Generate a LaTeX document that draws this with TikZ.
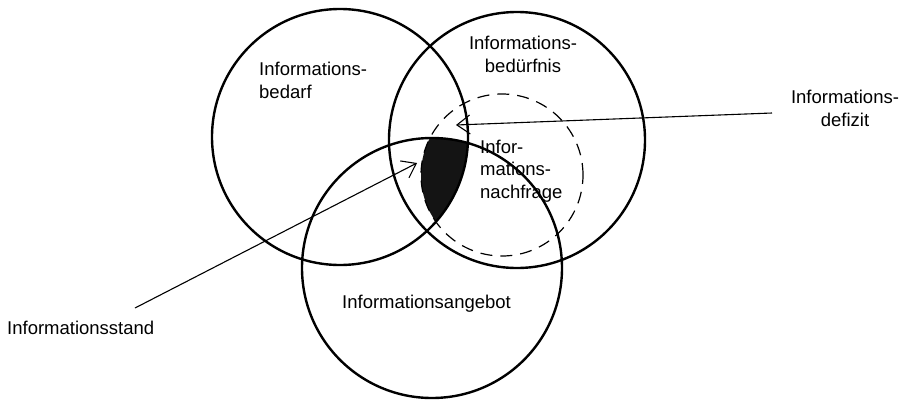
\documentclass[tikz,border=0pt]{standalone}
\usepackage{fontspec}
\setmainfont{Liberation Sans}
\usetikzlibrary{arrows.meta}
\begin{document}
\begin{tikzpicture}[x=1pt,y=-1pt,
  ring/.style={circle,draw,line width=2.4pt,inner sep=0pt,outer sep=0pt},
  dashring/.style={circle,draw,line width=1.2pt,dash pattern=on 12pt off 8pt,inner sep=0pt,outer sep=0pt},
  lbl/.style={font=\fontsize{18.5}{22.5}\selectfont,inner sep=0pt},
  pointer/.style={line width=1.1pt,-{Straight Barb[length=13pt,width=19pt,line width=1.1pt]}}]
\useasboundingbox (0,0) rectangle (908,402);
% black region
\begin{scope}
  \clip (340,137) circle (128);
  \clip (517,140) circle (128);
  \clip (432,268) circle (130);
  \fill[black!92] (502,175) circle (81);
\end{scope}
\node[ring,minimum size=256pt] (bedarf) at (340,137) {};
\node[ring,minimum size=256pt] (beduerfnis) at (517,140) {};
\node[ring,minimum size=260pt] (angebot) at (432,268) {};
\node[dashring,minimum size=162pt] (nachfrage) at (502,175) {};
% labels
\node[lbl,align=left,anchor=base west] (tbedarf) at (259,98) {Informations-\\bedarf};
\node[lbl,align=center,anchor=base] (tbeduerfnis) at (523,72) {Informations-\\bedürfnis};
\node[lbl,align=left,anchor=base west] (tnachfrage) at (480,198) {Infor-\\mations-\\nachfrage};
\node[lbl,anchor=base west] (tangebot) at (342,308) {Informationsangebot};
\node[lbl,anchor=base west] (tstand) at (7,334) {Informationsstand};
\node[lbl,align=center,anchor=base] (tdefizit) at (845,126) {Informations-\\defizit};
% pointers
\coordinate (defstart) at (772,113);
\coordinate (deftip) at (456,125);
\coordinate (standstart) at (135,308);
\coordinate (standtip) at (417,163);
\draw[pointer] (defstart) -- (deftip);
\draw[pointer] (standstart) -- (standtip);
\end{tikzpicture}
\end{document}
